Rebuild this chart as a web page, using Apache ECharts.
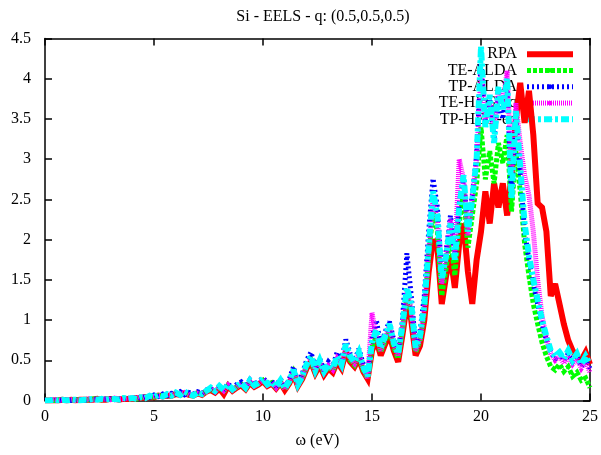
<!DOCTYPE html>
<html>
<head>
<meta charset="utf-8">
<script src="https://cdn.jsdelivr.net/npm/echarts@6/dist/echarts.min.js"></script>
<style>html,body{margin:0;padding:0;background:#fff}#c{width:601px;height:455px}</style>
</head>
<body>
<div id="c"></div>
<script>
// energy grid step (eV) and count
const energyStep = 0.2;
const energyCount = 126;

const seriesNames = ['RPA', 'TE-ALDA', 'TP-ALDA', 'TE-HEG-eq', 'TP-HEG-eq'];

const rpa = [
  0.00,0.00,0.00,0.00,0.01,0.00,0.01,0.00,0.01,0.01,
  0.01,0.01,0.02,0.01,0.01,0.02,0.02,0.01,0.02,0.02,
  0.02,0.03,0.03,0.04,0.04,0.04,0.06,0.05,0.06,0.06,
  0.08,0.07,0.09,0.07,0.06,0.09,0.07,0.11,0.13,0.10,
  0.15,0.08,0.18,0.12,0.16,0.19,0.14,0.22,0.17,0.20,
  0.24,0.18,0.21,0.15,0.22,0.13,0.21,0.33,0.18,0.27,
  0.40,0.48,0.34,0.44,0.32,0.40,0.35,0.48,0.40,0.60,
  0.48,0.42,0.52,0.36,0.27,0.62,0.75,0.56,0.70,0.82,
  0.62,0.48,0.82,1.20,1.00,0.56,0.68,1.00,1.60,2.00,
  1.90,1.20,1.55,1.80,1.40,1.95,2.20,1.60,1.20,1.75,
  2.10,2.60,2.20,2.70,2.40,2.70,2.30,2.80,3.50,3.95,
  3.45,3.85,3.30,2.45,2.40,2.10,1.30,1.45,1.20,0.95,
  0.75,0.62,0.55,0.50,0.60,0.45
];
const teAlda = [
  0.00,0.00,0.00,0.01,0.00,0.01,0.00,0.01,0.01,0.01,
  0.01,0.02,0.01,0.01,0.02,0.02,0.01,0.02,0.03,0.02,
  0.03,0.02,0.04,0.04,0.05,0.04,0.06,0.05,0.07,0.06,
  0.09,0.07,0.10,0.08,0.06,0.09,0.08,0.11,0.14,0.11,
  0.16,0.12,0.19,0.13,0.17,0.20,0.15,0.23,0.18,0.21,
  0.25,0.19,0.22,0.16,0.23,0.14,0.22,0.35,0.19,0.28,
  0.42,0.50,0.35,0.46,0.34,0.42,0.37,0.50,0.42,0.64,
  0.50,0.44,0.55,0.38,0.28,0.66,0.80,0.60,0.74,0.88,
  0.66,0.52,0.88,1.30,1.10,0.60,0.74,1.10,1.80,2.35,
  2.10,1.30,1.65,2.05,1.55,2.20,2.60,1.90,2.30,2.70,
  3.40,2.75,3.10,2.70,3.20,2.95,3.30,2.35,3.10,2.60,
  1.95,1.55,1.20,0.95,0.72,0.55,0.42,0.38,0.45,0.36,
  0.42,0.30,0.35,0.25,0.28,0.16
];
const tpAlda = [
  0.00,0.01,0.00,0.01,0.00,0.01,0.00,0.01,0.01,0.00,
  0.01,0.01,0.02,0.01,0.02,0.02,0.01,0.02,0.02,0.03,
  0.02,0.04,0.03,0.05,0.04,0.07,0.05,0.08,0.06,0.09,
  0.08,0.11,0.07,0.10,0.08,0.11,0.09,0.13,0.15,0.11,
  0.17,0.14,0.21,0.15,0.20,0.23,0.17,0.26,0.20,0.24,
  0.28,0.22,0.24,0.18,0.27,0.16,0.26,0.42,0.22,0.33,
  0.50,0.60,0.40,0.52,0.38,0.48,0.42,0.60,0.48,0.76,
  0.58,0.50,0.64,0.45,0.32,0.78,1.00,0.68,0.85,0.98,
  0.75,0.60,1.00,1.83,1.30,0.68,0.85,1.30,2.10,2.76,
  2.40,1.55,1.85,2.30,1.80,2.45,2.75,2.15,2.55,3.05,
  4.20,3.45,3.75,3.25,3.80,3.50,3.90,2.55,3.50,2.85,
  2.10,1.75,1.45,1.20,0.95,0.75,0.60,0.52,0.58,0.50,
  0.58,0.48,0.55,0.42,0.50,0.40
];
const teHeg = [
  0.00,0.00,0.01,0.01,0.00,0.01,0.01,0.00,0.01,0.01,
  0.02,0.01,0.01,0.02,0.02,0.01,0.03,0.02,0.02,0.03,
  0.03,0.03,0.05,0.03,0.05,0.05,0.06,0.06,0.07,0.07,
  0.09,0.08,0.10,0.07,0.07,0.09,0.08,0.11,0.15,0.11,
  0.17,0.12,0.19,0.13,0.17,0.21,0.15,0.24,0.18,0.21,
  0.26,0.19,0.22,0.16,0.24,0.14,0.23,0.36,0.19,0.29,
  0.43,0.52,0.36,0.48,0.35,0.43,0.38,0.52,0.43,0.66,
  0.52,0.46,0.58,0.40,0.28,1.09,0.80,0.62,0.78,0.92,
  0.70,0.55,0.92,1.35,1.15,0.62,0.76,1.15,1.85,2.50,
  2.25,1.45,1.80,2.25,1.80,3.00,2.75,2.05,2.50,3.00,
  4.10,3.50,3.70,3.40,3.85,3.70,4.10,2.80,3.70,3.20,
  2.80,2.55,2.10,1.50,1.05,0.78,0.58,0.50,0.55,0.46,
  0.55,0.45,0.52,0.40,0.48,0.35
];
const tpHeg = [
  0.00,0.00,0.01,0.00,0.01,0.00,0.01,0.01,0.00,0.01,
  0.01,0.02,0.01,0.02,0.01,0.02,0.02,0.01,0.03,0.02,
  0.03,0.02,0.04,0.03,0.06,0.04,0.07,0.05,0.08,0.06,
  0.10,0.07,0.11,0.08,0.06,0.10,0.08,0.12,0.16,0.12,
  0.18,0.13,0.20,0.14,0.18,0.22,0.16,0.25,0.19,0.22,
  0.27,0.20,0.23,0.17,0.25,0.15,0.24,0.38,0.20,0.30,
  0.45,0.55,0.38,0.50,0.36,0.45,0.40,0.55,0.45,0.70,
  0.55,0.48,0.60,0.42,0.30,0.72,0.88,0.65,0.80,0.95,
  0.72,0.58,0.95,1.40,1.20,0.66,0.80,1.20,1.90,2.60,
  2.30,1.50,1.80,2.20,1.75,2.40,2.80,2.10,2.50,3.00,
  4.40,3.40,3.80,3.20,3.90,3.60,4.00,2.50,3.60,2.90,
  2.20,1.80,1.50,1.25,1.00,0.80,0.62,0.55,0.60,0.52,
  0.62,0.50,0.58,0.45,0.55,0.45
];

const energies = [];
for (let i = 0; i < energyCount; i++) energies.push(+(i * energyStep).toFixed(1));

function pairs(vals) { return vals.map((v, i) => [energies[i], v]); }

const font = 'Liberation Serif';
const styles = [
  { color: '#ff0000', width: 6, type: 'solid' },
  { color: '#00ff00', width: 5, type: [4, 2] },
  { color: '#0000ff', width: 5, type: [2, 3] },
  { color: '#ff00ff', width: 5, type: [1, 1] },
  { color: '#00ffff', width: 6, type: [8, 3, 3, 3] }
];
const allVals = [rpa, teAlda, tpAlda, teHeg, tpHeg];

const chart = echarts.init(document.getElementById('c'), null, { renderer: 'canvas' });
const axisCommon = {
  axisLine: { show: true, onZero: false, lineStyle: { color: '#000', width: 1.5 } },
  axisTick: { show: true, inside: true, length: 7, lineStyle: { color: '#000', width: 1.5 } },
  splitLine: { show: false }
};
chart.setOption({
  animation: false,
  backgroundColor: '#fff',
  title: {
    text: 'Si - EELS - q: (0.5,0.5,0.5)',
    left: 318, top: 4, textAlign: 'center',
    textStyle: { fontFamily: font, fontSize: 16, fontWeight: 'normal', color: '#000' }
  },
  grid: { left: 45, right: 9, top: 38.5, bottom: 54.5, containLabel: false },
  legend: {
    orient: 'vertical', right: 20, top: 41, align: 'right', z: 1,
    itemWidth: 46, itemHeight: 6, itemGap: 0,
    textStyle: { fontFamily: font, fontSize: 16, color: '#000', lineHeight: 16.3, padding: [0, 5, 0, 0] },
    lineStyle: { width: 'inherit' },
    data: seriesNames
  },
  xAxis: [
    Object.assign({
      type: 'value', min: 0, max: 25, interval: 5, position: 'bottom',
      name: 'ω (eV)', nameLocation: 'middle', nameGap: 32,
      nameTextStyle: { fontFamily: font, fontSize: 16, color: '#000' },
      axisLabel: { fontFamily: font, fontSize: 16, color: '#000', margin: 8 }
    }, axisCommon),
    Object.assign({
      type: 'value', min: 0, max: 25, interval: 5, position: 'top',
      axisLabel: { show: false }
    }, axisCommon)
  ],
  yAxis: [
    Object.assign({
      type: 'value', min: 0, max: 4.5, interval: 0.5, position: 'left',
      axisLabel: { fontFamily: font, fontSize: 16, color: '#000', margin: 14 }
    }, axisCommon),
    Object.assign({
      type: 'value', min: 0, max: 4.5, interval: 0.5, position: 'right',
      axisLabel: { show: false }
    }, axisCommon)
  ],
  series: seriesNames.map((n, k) => ({
    name: n, type: 'line', xAxisIndex: 0, yAxisIndex: 0,
    data: pairs(allVals[k]), symbol: 'none', showSymbol: false,
    z: 2 + k,
    lineStyle: { color: styles[k].color, width: styles[k].width, type: styles[k].type, cap: 'butt', join: 'miter', miterLimit: 3 },
    itemStyle: { color: styles[k].color }
  }))
});
</script>
</body>
</html>
